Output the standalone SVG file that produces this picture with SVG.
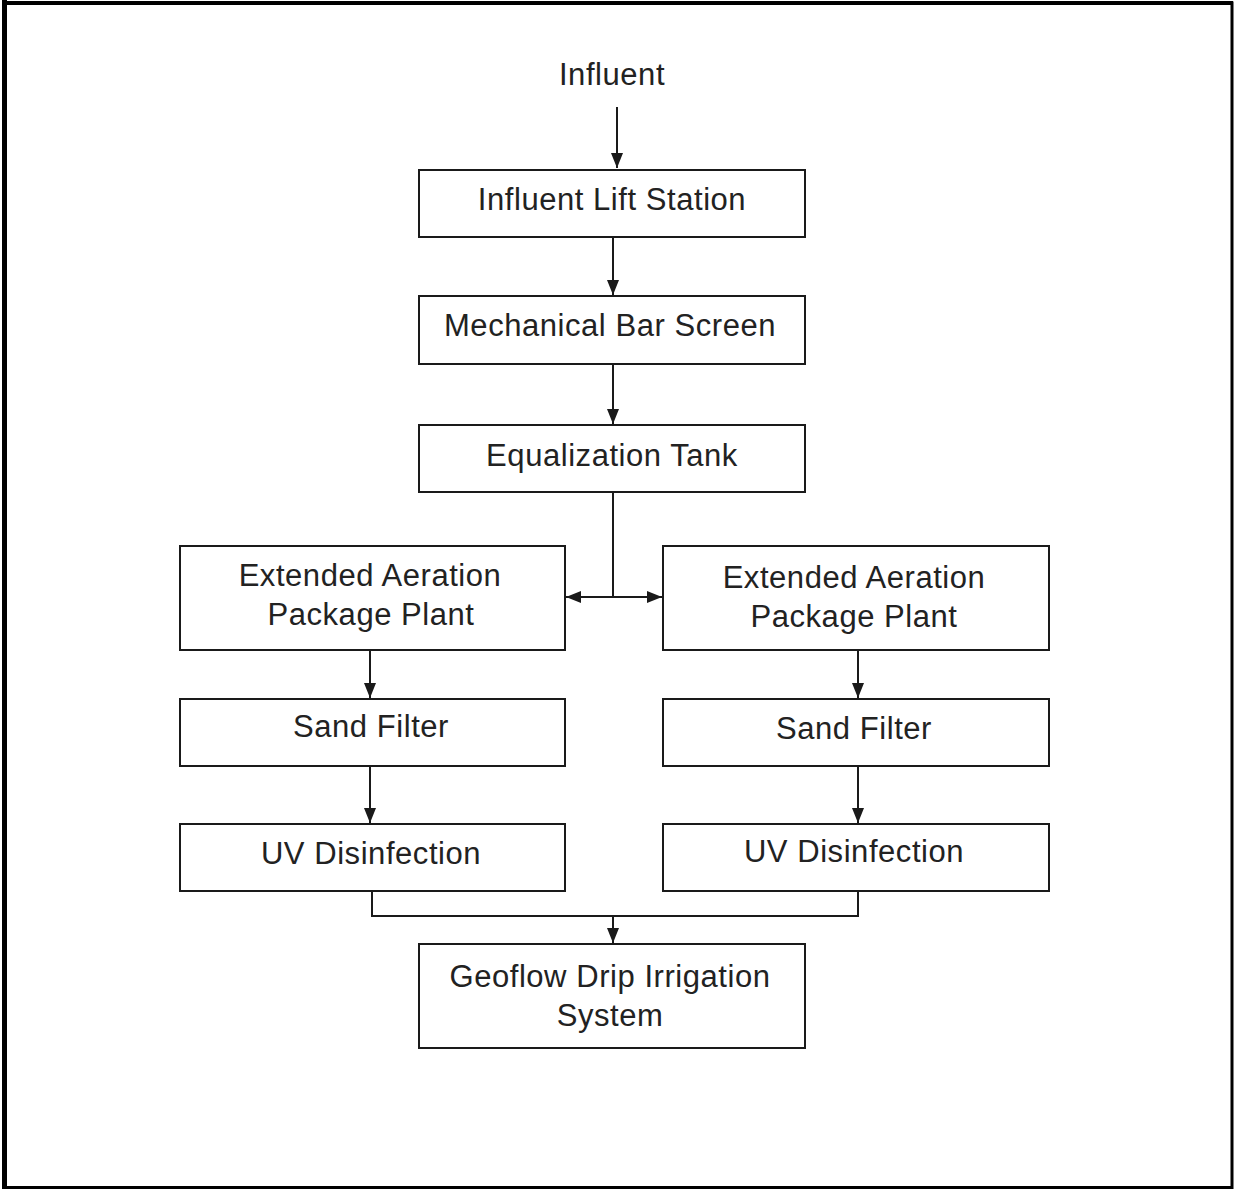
<svg xmlns="http://www.w3.org/2000/svg" width="1234" height="1189" viewBox="0 0 1234 1189">
<style>
.box{fill:#fff;stroke:#1a1a1a;stroke-width:2}
.t{font-family:"Liberation Sans",Arial,sans-serif;font-size:31px;letter-spacing:0.55px;fill:#222;text-anchor:middle}
.c{fill:none;stroke:#1a1a1a;stroke-width:2}
</style>
<defs>
<marker id="ah" viewBox="0 0 15 13" refX="15" refY="6.5" markerWidth="15" markerHeight="13" markerUnits="userSpaceOnUse" orient="auto-start-reverse">
<path d="M0,0.5 L15,6.5 L0,12.5 Z" fill="#1a1a1a"/>
</marker>
</defs>
<rect x="0" y="0" width="1234" height="1189" fill="#fff"/>
<path d="M4.5,1187.5 V3 H1232 V1187.5 Z" fill="none" stroke="#000" stroke-width="3"/>
<rect x="2" y="0" width="5" height="1189" fill="#000"/>
<rect x="2" y="1" width="1231" height="4" fill="#000"/>
<text class="t" x="612" y="85">Influent</text>
<g id="connectors">
<line class="c" x1="617" y1="107" x2="617" y2="168" marker-end="url(#ah)"/>
<line class="c" x1="613" y1="237" x2="613" y2="295" marker-end="url(#ah)"/>
<line class="c" x1="613" y1="364" x2="613" y2="424" marker-end="url(#ah)"/>
<line class="c" x1="613" y1="492" x2="613" y2="597"/>
<line class="c" x1="566" y1="597" x2="662" y2="597" marker-start="url(#ah)" marker-end="url(#ah)"/>
<line class="c" x1="370" y1="650" x2="370" y2="698" marker-end="url(#ah)"/>
<line class="c" x1="858" y1="650" x2="858" y2="698" marker-end="url(#ah)"/>
<line class="c" x1="370" y1="766" x2="370" y2="823" marker-end="url(#ah)"/>
<line class="c" x1="858" y1="766" x2="858" y2="823" marker-end="url(#ah)"/>
<path class="c" d="M372,891 V916 H858 V891"/>
<line class="c" x1="613" y1="916" x2="613" y2="943" marker-end="url(#ah)"/>
</g>
<g id="lift"><rect class="box" x="419" y="170" width="386" height="67"/><text class="t" x="612" y="210">Influent Lift Station</text></g>
<g id="barscreen"><rect class="box" x="419" y="296" width="386" height="68"/><text class="t" x="610" y="336">Mechanical Bar Screen</text></g>
<g id="eq"><rect class="box" x="419" y="425" width="386" height="67"/><text class="t" x="612" y="466">Equalization Tank</text></g>
<g id="ea-left"><rect class="box" x="180" y="546" width="385" height="104"/><text class="t" x="370" y="586">Extended Aeration</text><text class="t" x="371" y="625">Package Plant</text></g>
<g id="ea-right"><rect class="box" x="663" y="546" width="386" height="104"/><text class="t" x="854" y="588">Extended Aeration</text><text class="t" x="854" y="627">Package Plant</text></g>
<g id="sand-left"><rect class="box" x="180" y="699" width="385" height="67"/><text class="t" x="371" y="737">Sand Filter</text></g>
<g id="sand-right"><rect class="box" x="663" y="699" width="386" height="67"/><text class="t" x="854" y="739">Sand Filter</text></g>
<g id="uv-left"><rect class="box" x="180" y="824" width="385" height="67"/><text class="t" x="371" y="864">UV Disinfection</text></g>
<g id="uv-right"><rect class="box" x="663" y="824" width="386" height="67"/><text class="t" x="854" y="862">UV Disinfection</text></g>
<g id="geoflow"><rect class="box" x="419" y="944" width="386" height="104"/><text class="t" x="610" y="987">Geoflow Drip Irrigation</text><text class="t" x="610" y="1026">System</text></g>
</svg>
